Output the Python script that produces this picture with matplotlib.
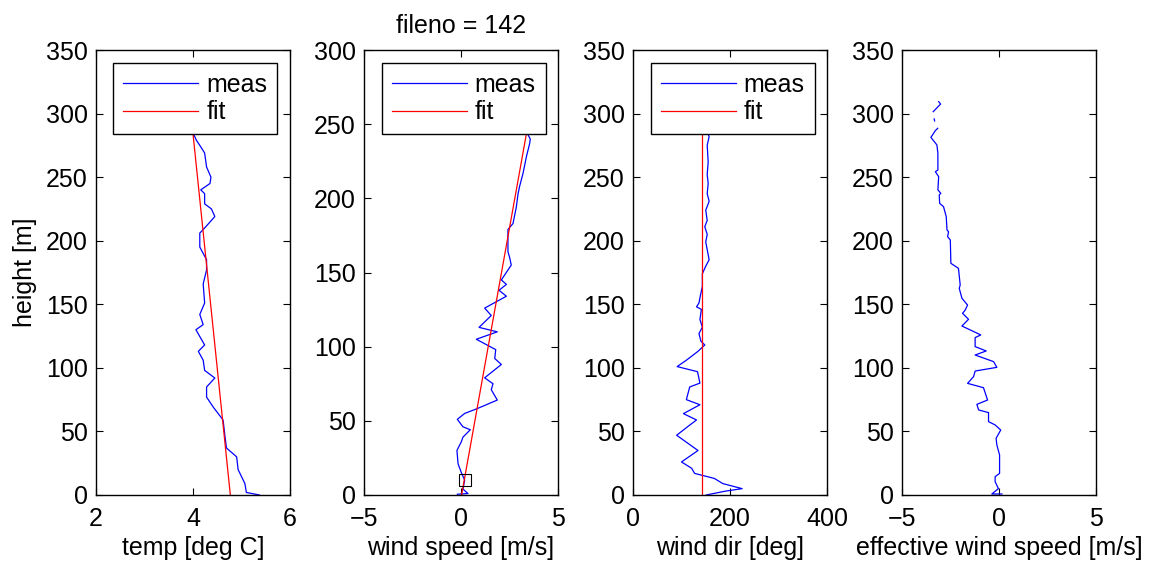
import numpy as np
import matplotlib
matplotlib.use('Agg')
from matplotlib import pyplot as plt

plt.rcParams['font.family'] = ['Liberation Sans', 'DejaVu Sans']
plt.rcParams['font.size'] = 18

# temperature profile
temp_h = [0, 2, 9, 20, 30, 37, 46, 59, 64, 69, 77, 85, 92, 98, 106, 113, 118, 130, 134,
          142, 151, 166, 177, 185, 190, 195, 206, 210, 219, 225, 229, 237, 240, 245, 250,
          258, 269, 275, 279, 285, 295, 305, 310]
temp_meas = [5.37, 5.10, 5.07, 4.93, 4.90, 4.69, 4.66, 4.62, 4.52, 4.42, 4.28, 4.28, 4.45,
             4.24, 4.21, 4.11, 4.24, 4.06, 4.21, 4.14, 4.24, 4.21, 4.28, 4.28, 4.21, 4.14,
             4.14, 4.24, 4.45, 4.38, 4.24, 4.24, 4.16, 4.35, 4.37, 4.28, 4.24, 4.14, 4.07,
             4.00, 3.97, 3.95, 3.93]
temp_fit_h = [0, 310]
temp_fit = [4.77, 3.93]

# wind speed profile
ws_h = [0.5, 1, 4, 10, 15, 21, 30, 36, 39, 44, 46, 51, 55, 58, 64, 71, 75, 79, 88, 92,
        98, 105, 110, 113, 121, 126, 134, 138, 142, 145, 155, 160, 164, 179, 183, 194,
        203, 208, 217, 228, 237, 240, 243, 248]
ws_meas = [-0.19, 0.36, 0.10, 0.19, 0.02, -0.15, -0.21, 0.02, 0.10, 0.48, 0.10, -0.19,
           0.19, 0.79, 1.87, 1.56, 1.65, 1.22, 2.08, 1.74, 1.79, 0.79, 1.87, 0.93, 1.56,
           1.22, 2.34, 1.96, 2.34, 2.08, 2.59, 2.51, 2.42, 2.42, 2.68, 2.85, 2.94, 3.02,
           3.20, 3.37, 3.54, 3.57, 3.45, 3.40]
ws_fit_h = [0, 250]
ws_fit = [0.03, 3.46]
ws_ref_h = 10
ws_ref = 0.2

# wind direction profile
wd_h = [0, 3, 5, 9, 13, 17, 21, 26, 35, 47, 55, 59, 64, 71, 75, 85, 88, 97, 101, 106,
        113, 118, 121, 127, 132, 138, 146, 148, 151, 157, 164, 174, 180, 185, 193, 199,
        205, 211, 216, 224, 231, 237, 245, 252, 262, 275, 282, 285, 295, 305]
wd_meas = [151, 190, 225, 185, 168, 127, 121, 100, 134, 90, 117, 131, 104, 138, 110, 117,
           138, 133, 91, 110, 134, 148, 140, 136, 143, 138, 141, 131, 136, 139, 143, 143,
           150, 157, 153, 150, 153, 148, 153, 150, 157, 153, 155, 153, 155, 153, 157, 153,
           155, 154]
wd_fit_h = [0, 310]
wd_fit = [142.4, 142.4]

# effective wind speed (gaps where no data)
eff_h = [0.8, 0.8, 5, 10.5, 14.4, 17, 31.5, 39.3, 44.6, 51.1, 55.1, 57.7, 64.8, 66.9,
         71.3, 74.7, 84.4, 87.8, 93.1, 97.5, 100.4, 104.9, 110.1, 113.3, 116.7, 123.8,
         125.9, 132.9, 138.2, 142.9, 145.5, 149.4, 154.7, 162.6, 165.2, 178.3, 182.2,
         200.6, 203.2, 207.1, 208.4, 218.9, 226.8, 229.4, 236, 237.3, 240, 250.4, 254.3,
         255.6, 268.7, 275.3, 281.3, 286.6, 288.4, np.nan, 294.2, 295.8, np.nan,
         301.5, 307.5, 309.4]
eff_meas = [0.15, -0.37, -0.03, -0.20, -0.20, 0.03, 0.03, -0.11, -0.15, 0.09, -0.20,
            -0.54, -0.54, -1.05, -1.14, -0.59, -0.80, -1.62, -1.31, -1.23, -0.11, -0.28,
            -1.23, -0.66, -1.23, -1.23, -0.94, -1.91, -1.57, -1.88, -1.74, -1.62, -1.91,
            -2.05, -2.00, -2.09, -2.48, -2.51, -2.65, -2.60, -2.68, -2.72, -2.86, -3.06,
            -3.08, -3.00, -3.15, -3.11, -3.28, -3.15, -3.15, -3.20, -3.51, -3.28, -3.16,
            np.nan, -3.32, -3.34, np.nan, -3.39, -3.01, -3.11]

W, H = 1149, 563
fig = plt.figure(figsize=(W / 100, H / 100), dpi=100)
lefts = [96, 364, 633, 902]
axs = [fig.add_axes([l / W, 68 / H, 194 / W, 445 / H]) for l in lefts]


def style(ax, xlim, xticks, ylim, yticks, xlabel):
    ax.set_xlim(xlim)
    ax.set_ylim(ylim)
    ax.set_xticks(xticks)
    ax.set_yticks(yticks)
    ax.set_xlabel(xlabel, labelpad=3)
    ax.tick_params(direction='in', top=True, right=True, length=5, width=0.8)
    ax.tick_params(axis='x', pad=9)
    ax.tick_params(axis='y', pad=6)
    for s in ax.spines.values():
        s.set_linewidth(1.0)


def legend(ax):
    ax.legend(loc='upper right', fancybox=False, edgecolor='k', framealpha=1,
              handlelength=3.0, handletextpad=0.32, labelspacing=0.15,
              borderpad=0.4, borderaxespad=0.5)


ax = axs[0]
ax.plot(temp_meas, temp_h, color='b', lw=0.9, label='meas')
ax.plot(temp_fit, temp_fit_h, color='r', lw=0.9, label='fit')
style(ax, (2, 6), [2, 4, 6], (0, 350), range(0, 351, 50), 'temp [deg C]')
ax.set_ylabel('height [m]', labelpad=6)
legend(ax)

ax = axs[1]
ax.plot(ws_meas, ws_h, color='b', lw=0.9, label='meas')
ax.plot(ws_fit, ws_fit_h, color='r', lw=0.9, label='fit')
ax.plot([ws_ref], [ws_ref_h], 's', mfc='none', mec='k', ms=8, mew=0.8)
style(ax, (-5, 5), [-5, 0, 5], (0, 300), range(0, 301, 50), 'wind speed [m/s]')
ax.set_title('fileno = 142', fontsize=18, pad=12)
legend(ax)

ax = axs[2]
ax.plot(wd_meas, wd_h, color='b', lw=0.9, label='meas')
ax.plot(wd_fit, wd_fit_h, color='r', lw=0.9, label='fit')
style(ax, (0, 400), [0, 200, 400], (0, 350), range(0, 351, 50), 'wind dir [deg]')
legend(ax)

ax = axs[3]
ax.plot(eff_meas, eff_h, color='b', lw=0.9)
style(ax, (-5, 5), [-5, 0, 5], (0, 350), range(0, 351, 50), 'effective wind speed [m/s]')

fig.savefig('out.png', dpi=100)
